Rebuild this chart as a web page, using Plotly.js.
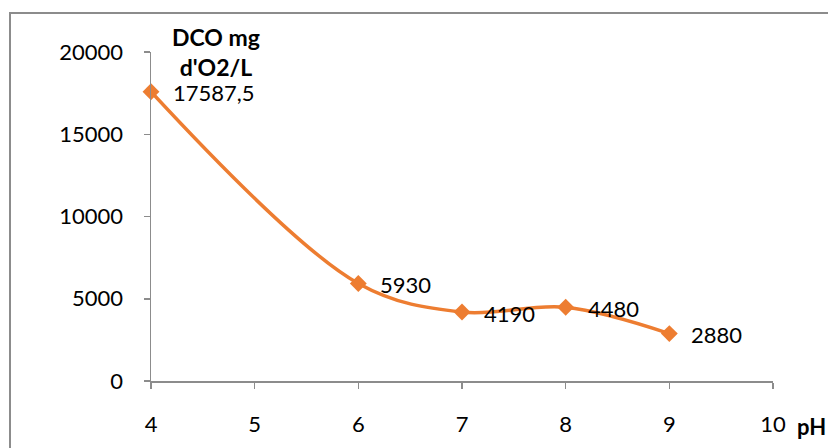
<!DOCTYPE html>
<html>
<head>
<meta charset="utf-8">
<script src="https://cdn.plot.ly/plotly-3.0.1.min.js"></script>
<style>html,body{margin:0;padding:0;background:#fff;}#chart{width:828px;height:448px;}</style>
</head>
<body>
<div id="chart"></div>
<script>
const phValues = [4, 6, 7, 8, 9];
const dcoValues = [17587.5, 5930, 4190, 4480, 2880];
const xTickValues = [4, 5, 6, 7, 8, 9, 10];
const yTickValues = [0, 5000, 10000, 15000, 20000];
const yAxisTitle = "DCO mg<br>d'O2/L";
const xAxisTitle = "pH";

const FONT = "Lato";
const FS = 22;
const ORANGE = "#ED7D31";
const AXIS = "#8C8C8C";

const labelText = dcoValues.map(v => String(v).replace('.', ','));

const trace = {
  x: phValues,
  y: dcoValues,
  type: 'scatter',
  mode: 'lines+markers',
  line: {color: ORANGE, width: 3.5, shape: 'spline', smoothing: 1},
  marker: {symbol: 'diamond', size: 13, color: ORANGE},
  hoverinfo: 'skip',
  cliponaxis: false
};

const annotations = phValues.map((x, i) => ({
  x: x, y: dcoValues[i], xref: 'x', yref: 'y',
  text: labelText[i], showarrow: false,
  xanchor: 'left', yanchor: 'middle', xshift: 20, yshift: -1,
  font: {family: FONT, size: FS, color: '#000'}
}));
annotations.push({
  x: 0.105, y: 1.0, xref: 'paper', yref: 'paper',
  text: '<b>' + yAxisTitle + '</b>', showarrow: false,
  xanchor: 'center', yanchor: 'middle', yshift: 0,
  font: {family: FONT, size: 23, color: '#000'}
});
annotations.push({
  x: 1.0, y: 0, xref: 'paper', yref: 'paper',
  text: '<b>' + xAxisTitle + '</b>', showarrow: false,
  xanchor: 'left', yanchor: 'middle', xshift: 22, yshift: -45,
  font: {family: FONT, size: FS, color: '#000'}
});

const layout = {
  width: 828, height: 448,
  margin: {l: 151, r: 55, t: 52, b: 67, pad: 0},
  paper_bgcolor: '#fff', plot_bgcolor: '#fff',
  showlegend: false,
  font: {family: FONT, size: FS, color: '#000'},
  xaxis: {
    range: [4, 10], tickvals: xTickValues, ticktext: xTickValues.map(String),
    showgrid: false, zeroline: false, showline: true, linecolor: AXIS, linewidth: 1.5,
    ticks: 'outside', ticklen: 6, tickcolor: AXIS, tickwidth: 1.5,
    ticklabelstandoff: 17, tickfont: {family: FONT, size: FS, color: '#000'}
  },
  yaxis: {
    range: [0, 20000], tickvals: yTickValues, ticktext: yTickValues.map(String),
    showgrid: false, zeroline: false, showline: true, linecolor: AXIS, linewidth: 1.5,
    ticks: 'outside', ticklen: 6, tickcolor: AXIS, tickwidth: 1.5,
    ticklabelstandoff: 16, tickfont: {family: FONT, size: FS, color: '#000'}
  },
  annotations: annotations,
  shapes: [{
    type: 'rect', xref: 'paper', yref: 'paper',
    x0: (10 - 151) / 622, x1: 2, y0: -1, y1: (381 - 13) / 329,
    line: {color: '#8C8C8C', width: 2}, fillcolor: 'rgba(0,0,0,0)', layer: 'below'
  }]
};

Plotly.newPlot('chart', [trace], layout, {staticPlot: true, displayModeBar: false});
</script>
</body>
</html>
